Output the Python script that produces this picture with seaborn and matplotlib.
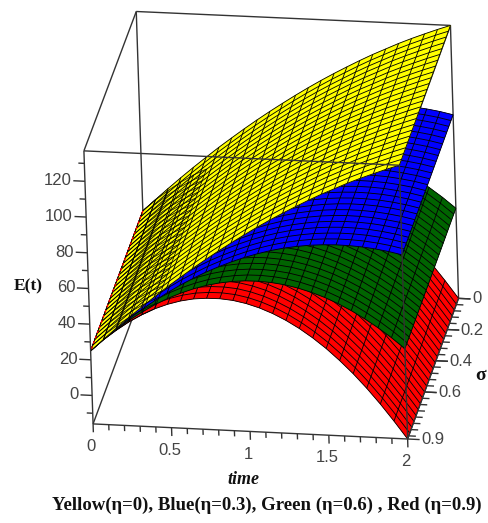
import numpy as np
import matplotlib
matplotlib.use("Agg")
import matplotlib.pyplot as plt
from mpl_toolkits.mplot3d.art3d import Line3DCollection
import seaborn as sns

# values: E(t) at each time step; the surfaces barely change with sigma
time_values = [k / 12 for k in range(25)]
sigma_values = [0.9 * k / 24 for k in range(25)]
yellow_E = [25, 31.7, 38.3, 44.7, 50.9, 56.9, 62.8, 68.4, 73.9, 79.2, 84.3, 89.2, 94, 98.6, 103, 107.2, 111.2, 115.1, 118.8, 122.2, 125.6, 128.7, 131.6, 134.4, 137]
blue_E = [25, 31.6, 38, 43.9, 49.5, 54.7, 59.6, 64.2, 68.3, 72.2, 75.6, 78.7, 81.5, 83.9, 86, 87.7, 89, 90, 90.6, 90.9, 90.8, 90.4, 89.6, 88.5, 87]
green_E = [25, 31.6, 37.6, 43.1, 48, 52.5, 56.4, 59.7, 62.5, 64.8, 66.5, 67.7, 68.4, 68.5, 68.1, 67.2, 65.7, 63.7, 61.2, 58.1, 54.5, 50.3, 45.6, 40.4, 34.6]
red_E = [25, 31.5, 37.2, 42.3, 46.6, 50.3, 53.2, 55.4, 56.9, 57.6, 57.7, 57.1, 55.7, 53.6, 50.8, 47.3, 43.1, 38.2, 32.6, 26.2, 19.2, 11.4, 2.9, -6.3, -16]

time_ticks = [0, 0.5, 1, 1.5, 2]
time_labels = ["0", "0.5", "1", "1.5", "2"]
time_minor = [k / 10 for k in range(21)]
sigma_ticks = [0, 0.2, 0.4, 0.6, 0.9]
sigma_labels = ["0", "0.2", "0.4", "0.6", "0.9"]
sigma_minor = [k * 0.04 for k in range(23)]
E_ticks = [0, 20, 40, 60, 80, 100, 120]
E_minor = [-10, 10, 30, 50, 70, 90, 110, 130]

T0, T1, S0, S1, Z0, Z1 = 0.0, 2.0, 0.0, 0.9, -16.0, 137.0
W, H = 489, 523

sns.set_theme(style="white")
plt.rcParams["font.family"] = ["Liberation Sans", "DejaVu Sans"]

fig = plt.figure(figsize=(W / 100, H / 100), dpi=100)
ax = fig.add_axes([0, 0, 1, 1], projection="3d", computed_zorder=False)
ax.set_axis_off()

# camera: map the data box onto the box seen in the picture
corners_box = [(0, 1, 0), (1, 1, 0), (1, 0, 0), (0, 0, 0), (0, 1, 1), (1, 1, 1), (1, 0, 1), (0, 0, 1)]
corners_px = [(93, 425), (407, 438), (459, 300), (145.5, 282), (84, 151), (400, 165), (450, 25), (136, 12)]
rows = []
for (a, b, c), (u, v) in zip(corners_box, corners_px):
    rows.append([a, b, c, 1, 0, 0, 0, 0, -u * a, -u * b, -u * c, -u])
    rows.append([0, 0, 0, 0, a, b, c, 1, -v * a, -v * b, -v * c, -v])
P = np.linalg.svd(np.array(rows))[2][-1].reshape(3, 4)
P = P / P[2, 3]
scale = np.array([[1 / (T1 - T0), 0, 0, -T0 / (T1 - T0)],
                  [0, 1 / (S1 - S0), 0, -S0 / (S1 - S0)],
                  [0, 0, 1 / (Z1 - Z0), -Z0 / (Z1 - Z0)],
                  [0, 0, 0, 1]])
M = np.vstack([P[0], P[1], [0, -1, -1, 0], P[2]]) @ scale
ax.get_proj = lambda: M
ax.apply_aspect = lambda *a, **k: None
ax.viewLim.intervalx = (0, W)
ax.viewLim.intervaly = (H, 0)
ax.M = M


def label_at(t, s, z, text, **kw):
    """Place a label at a data position of the box, through the same camera."""
    x, y, _, w = M @ np.array([t, s, z, 1.0])
    fig.text(x / w / W, 1 - y / w / H, text, **kw)


TT, SS = np.meshgrid(time_values, sigma_values)
surfaces = [(red_E, "#ff0000", 3), (green_E, "#006400", 4), (blue_E, "#0000ff", 5), (yellow_E, "#ffff00", 6)]
for vals, col, zo in surfaces:
    ZZ = np.tile(np.array(vals, float), (len(sigma_values), 1))
    ax.plot_surface(TT, SS, ZZ, color=col, edgecolor=col, linewidth=0.3,
                    shade=False, rstride=1, cstride=1, antialiased=True, zorder=zo)
    ax.plot_wireframe(TT, SS, ZZ, color="black", linewidth=0.62,
                      rstride=1, cstride=1, antialiased=True, zorder=zo + 0.5)

# lower meshes showing through the yellow one close to t = 0
n = 6
ax.plot_wireframe(TT[:, :n], SS[:, :n], np.tile(np.array(red_E[:n]), (25, 1)),
                  color="black", linewidth=0.5, rstride=1, cstride=1, antialiased=True, zorder=7)
red_edge = Line3DCollection([[(0, S0, red_E[0]), (0, S1, red_E[0])]], colors="#ff0000",
                            linewidths=1.0, linestyles=[(0, (2, 2))], zorder=8)
ax.add_collection3d(red_edge, autolim=False)

A, B, C, D = (T0, S1, Z0), (T1, S1, Z0), (T1, S0, Z0), (T0, S0, Z0)
E, F, G, I = (T0, S1, Z1), (T1, S1, Z1), (T1, S0, Z1), (T0, S0, Z1)
back_segments = [(A, D), (D, C), (D, I), (I, G), (I, E), (G, C), (G, F)]
front_segments = [(E, F), (F, B), (A, B), (B, C), (E, A)]

# ticks
for v in time_minor:
    front_segments.append(((v, S1, Z0), (v, S1, Z0 - 3.2 - 1.5 * (v in time_ticks))))
for v in E_minor + E_ticks:
    front_segments.append(((T0, S1, v), (T0 - (0.074 if v in E_ticks else 0.038), S1, v)))
for v in sigma_minor + sigma_ticks:
    front_segments.append(((T1, v, Z0), (T1 + (0.076 if v in sigma_ticks else 0.045), v, Z0)))

ax.add_collection3d(Line3DCollection(back_segments, colors="#333333", linewidths=1.0, zorder=1), autolim=False)
ax.add_collection3d(Line3DCollection(front_segments, colors="#333333", linewidths=1.0, zorder=10), autolim=False)

# tick labels
tick_font = dict(fontsize=12, color="#444444")
for v, s in zip(time_ticks, time_labels):
    label_at(v - 0.015, S1, Z0 - 12.8, s, ha="center", va="center", **tick_font)
for v in E_ticks:
    label_at(T0 - 0.085, S1, v, str(v), ha="right", va="center", **tick_font)
for v, s in zip(sigma_ticks, sigma_labels):
    label_at(T1 + 0.085, v, Z0, s, ha="left", va="center", **tick_font)

# axis titles and caption
serif = ["Liberation Serif", "DejaVu Serif"]
fig.text(28 / W, 1 - 286 / H, "E(t)", family=serif, weight="bold", fontsize=12.5, ha="center", va="center", color="#111111")
fig.text(481 / W, 1 - 376 / H, "σ", family=serif, weight="bold", fontsize=14, ha="center", va="center", color="#111111")
fig.text(243 / W, 1 - 480 / H, "time", family=serif, weight="bold", style="italic", fontsize=13, ha="center", va="center", color="#111111")
fig.text(267 / W, 1 - 505 / H, "Yellow(η=0), Blue(η=0.3), Green (η=0.6) , Red (η=0.9)",
         family=serif, weight="bold", fontsize=13.5, ha="center", va="center", color="#111111")

fig.savefig("out.png", dpi=100, facecolor="white")
